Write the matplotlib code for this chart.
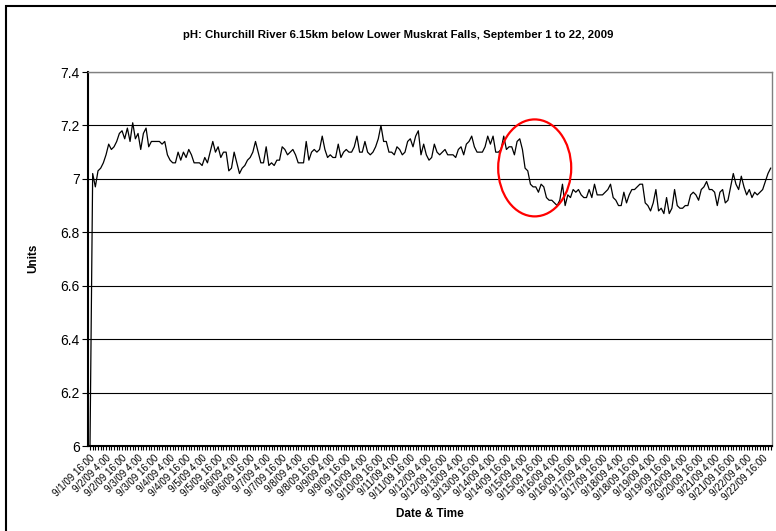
import datetime as dt

import matplotlib
matplotlib.use("Agg")
import matplotlib.pyplot as plt
import matplotlib.dates as mdates
from matplotlib.patches import Ellipse, Rectangle
from matplotlib.ticker import FuncFormatter

plt.rcParams['font.family'] = ['Liberation Sans Narrow', 'Liberation Sans', 'DejaVu Sans']

# readings every 2 hours starting 9/1/09 16:00
start = dt.datetime(2009, 9, 1, 16, 0)
step_hours = 2
ph = [
    6.00, 7.02, 6.97, 7.03, 7.04, 7.06, 7.09, 7.13, 7.11, 7.12, 7.14, 7.17, 7.18, 7.15, 7.19, 7.14, 7.21,
    7.15, 7.17, 7.11, 7.17, 7.19, 7.12, 7.14, 7.14, 7.14, 7.14, 7.13, 7.14, 7.09, 7.07, 7.06, 7.06, 7.10,
    7.07, 7.10, 7.08, 7.11, 7.09, 7.06, 7.06, 7.06, 7.05, 7.08, 7.06, 7.10, 7.14, 7.10, 7.12, 7.08, 7.10,
    7.10, 7.03, 7.04, 7.10, 7.06, 7.02, 7.04, 7.05, 7.07, 7.08, 7.10, 7.14, 7.10, 7.06, 7.06, 7.12, 7.05,
    7.06, 7.05, 7.07, 7.07, 7.12, 7.11, 7.09, 7.10, 7.11, 7.09, 7.06, 7.06, 7.06, 7.14, 7.07, 7.10, 7.11,
    7.10, 7.11, 7.16, 7.11, 7.08, 7.09, 7.08, 7.08, 7.13, 7.08, 7.10, 7.11, 7.10, 7.10, 7.12, 7.16, 7.10,
    7.10, 7.14, 7.10, 7.09, 7.10, 7.12, 7.15, 7.20, 7.14, 7.14, 7.10, 7.10, 7.09, 7.12, 7.11, 7.09, 7.10,
    7.14, 7.15, 7.12, 7.16, 7.18, 7.09, 7.13, 7.09, 7.07, 7.08, 7.13, 7.10, 7.09, 7.10, 7.11, 7.09, 7.09,
    7.09, 7.08, 7.11, 7.12, 7.09, 7.13, 7.14, 7.16, 7.12, 7.10, 7.10, 7.10, 7.12, 7.16, 7.13, 7.16, 7.10,
    7.10, 7.11, 7.16, 7.11, 7.12, 7.12, 7.09, 7.14, 7.15, 7.11, 7.04, 7.03, 6.98, 6.97, 6.97, 6.95, 6.98,
    6.97, 6.93, 6.92, 6.92, 6.91, 6.90, 6.92, 6.98, 6.90, 6.94, 6.93, 6.96, 6.95, 6.96, 6.94, 6.93, 6.93,
    6.96, 6.93, 6.98, 6.94, 6.94, 6.94, 6.95, 6.96, 6.98, 6.93, 6.92, 6.90, 6.90, 6.95, 6.91, 6.94, 6.96,
    6.96, 6.97, 6.98, 6.98, 6.91, 6.90, 6.88, 6.91, 6.96, 6.88, 6.89, 6.87, 6.93, 6.87, 6.89, 6.96, 6.90,
    6.89, 6.89, 6.90, 6.90, 6.94, 6.95, 6.94, 6.92, 6.96, 6.97, 6.99, 6.96, 6.96, 6.95, 6.90, 6.95, 6.96,
    6.91, 6.92, 6.97, 7.02, 6.98, 6.96, 7.01, 6.97, 6.94, 6.96, 6.93, 6.95, 6.94, 6.95, 6.96, 6.99, 7.02,
    7.04,
]
y_ticks = [6.0, 6.2, 6.4, 6.6, 6.8, 7.0, 7.2, 7.4]

times = [start + dt.timedelta(hours=step_hours * i) for i in range(len(ph))]

fig = plt.figure(figsize=(7.76, 5.31), dpi=100)
ax = fig.add_axes([88 / 776, 1 - 446 / 531, 684 / 776, 374 / 531])

ax.plot(times, ph, color='black', lw=0.9, zorder=3)

ax.set_xlim(times[0] - dt.timedelta(hours=1.5), times[-1] + dt.timedelta(hours=1))
ax.set_ylim(6.0, 7.4)
ax.set_yticks(y_ticks)
ax.yaxis.set_major_formatter(FuncFormatter(lambda v, p: f"{v:g}"))
ax.yaxis.grid(True, color='black', lw=0.8)
ax.set_axisbelow(True)


def fmt_date(x, pos):
    d = mdates.num2date(x)
    return f"{d.month}/{d.day}/{d:%y} {d.hour}:{d:%M}"


ax.xaxis.set_major_locator(mdates.HourLocator(byhour=[4, 16]))
ax.xaxis.set_major_formatter(FuncFormatter(fmt_date))
ax.xaxis.set_minor_locator(mdates.HourLocator(byhour=range(0, 24, 2)))
ax.tick_params(axis='x', which='both', direction='out', length=3, width=0.8, pad=2, labelsize=7)
ax.tick_params(axis='y', direction='out', length=4, width=0.8, pad=2, labelsize=10)
for lbl in ax.get_xticklabels():
    lbl.set_rotation(45)
    lbl.set_ha('right')
    lbl.set_va('top')
    lbl.set_rotation_mode('anchor')

for side in ('left', 'bottom'):
    ax.spines[side].set_linewidth(1.5)
    ax.spines[side].set_color('black')
for side in ('top', 'right'):
    ax.spines[side].set_linewidth(1.0)
    ax.spines[side].set_color('#808080')

# highlight the drop around 9/15
ring = Ellipse((mdates.date2num(dt.datetime(2009, 9, 15, 13, 12)), 7.041),
               width=2.28, height=0.363, fill=False, edgecolor='red', lw=1.6, zorder=4)
ax.add_patch(ring)

fig.text(398 / 776, 1 - 35 / 531,
         'pH: Churchill River 6.15km below Lower Muskrat Falls, September 1 to 22, 2009',
         ha='center', va='center', fontsize=8.2, fontweight='bold')
fig.text(33 / 776, 1 - 258 / 531, 'Units', rotation=90, ha='center', va='center',
         fontsize=8.5, fontweight='bold')
fig.text(430 / 776, 1 - 514 / 531, 'Date & Time', ha='center', va='center',
         fontsize=8.5, fontweight='bold')

fig.patches.append(Rectangle((6 / 776, -0.05), 1.2, 1 - 6 / 531 + 0.05, transform=fig.transFigure,
                             fill=False, edgecolor='black', lw=1.5))

fig.savefig('out.png', dpi=100)
